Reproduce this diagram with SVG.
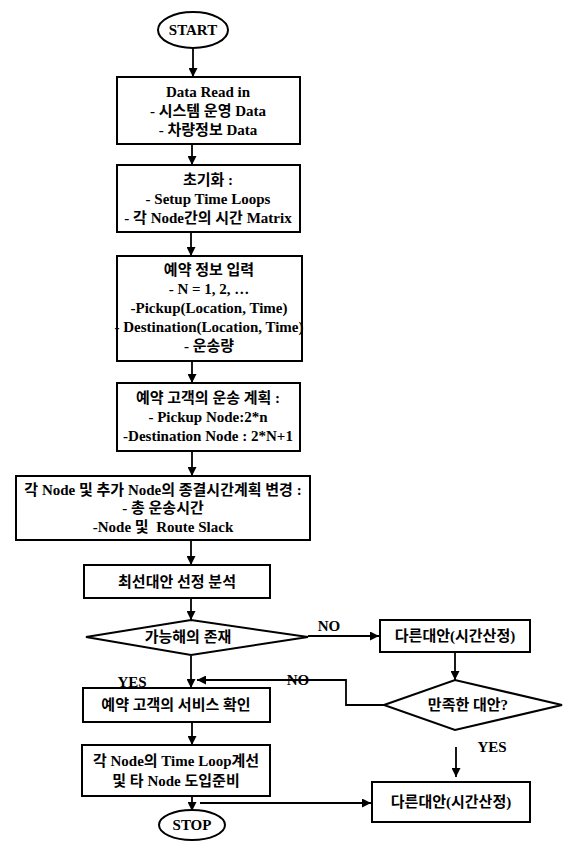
<svg xmlns="http://www.w3.org/2000/svg" width="576" height="852" viewBox="0 0 576 852">
<style>
.sh{fill:#fff;stroke:#000;stroke-width:2}
.t{font-family:"Liberation Serif","Noto Sans CJK KR",serif;font-weight:bold;font-size:15px;fill:#000;text-anchor:middle;white-space:pre}
.c{fill:none;stroke:#000;stroke-width:1.8}
</style>
<defs>
<marker id="ah" viewBox="0 0 10 10" refX="10" refY="5" markerWidth="5" markerHeight="5" orient="auto" markerUnits="strokeWidth">
<path d="M0,0L10,5L0,10z" fill="#000"/>
</marker>
</defs>
<rect width="576" height="852" fill="#fff"/>
<g id="connectors">
<line class="c" x1="193" y1="48" x2="193" y2="77" marker-end="url(#ah)"/>
<line class="c" x1="192" y1="144" x2="192" y2="165" marker-end="url(#ah)"/>
<line class="c" x1="191" y1="232" x2="191" y2="256" marker-end="url(#ah)"/>
<line class="c" x1="192" y1="361" x2="192" y2="383" marker-end="url(#ah)"/>
<line class="c" x1="192" y1="451" x2="192" y2="476" marker-end="url(#ah)"/>
<line class="c" x1="191" y1="540" x2="191" y2="565" marker-end="url(#ah)"/>
<line class="c" x1="191" y1="598" x2="191" y2="620" marker-end="url(#ah)"/>
<line class="c" x1="308" y1="636" x2="379" y2="636" marker-end="url(#ah)"/>
<text class="t" x="329" y="631">NO</text>
<line class="c" x1="455" y1="652" x2="455" y2="680" marker-end="url(#ah)"/>
<polyline class="c" points="384,705 346,705 346,680 197,680" marker-end="url(#ah)"/>
<text class="t" x="298" y="685">NO</text>
<text class="t" x="132" y="687">YES</text>
<line class="c" x1="191" y1="656" x2="191" y2="688" marker-end="url(#ah)"/>
<line class="c" x1="192" y1="722" x2="192" y2="745" marker-end="url(#ah)"/>
<line class="c" x1="192" y1="796" x2="192" y2="811" marker-end="url(#ah)"/>
<line class="c" x1="200" y1="803" x2="371" y2="803" marker-end="url(#ah)"/>
<line class="c" x1="456" y1="747" x2="456" y2="777" marker-end="url(#ah)"/>
<text class="t" x="492" y="752">YES</text>
</g>
<g id="start">
<ellipse class="sh" cx="193" cy="30" rx="35" ry="18"/>
<text class="t" x="193" y="35">START</text>
</g>
<g id="data-read">
<rect class="sh" x="117" y="77" width="183" height="67"/>
<text class="t" x="208" y="97">Data Read in</text>
<text class="t" x="208" y="116">- 시스템 운영 Data</text>
<text class="t" x="208" y="135">- 차량정보 Data</text>
</g>
<g id="init">
<rect class="sh" x="117" y="165" width="183" height="67"/>
<text class="t" x="208" y="185">초기화 :</text>
<text class="t" x="208" y="204">- Setup Time Loops</text>
<text class="t" x="208" y="223">- 각 Node간의 시간 Matrix</text>
</g>
<g id="reservation">
<rect class="sh" x="117" y="256" width="185" height="105"/>
<text class="t" x="209" y="275">예약 정보 입력</text>
<text class="t" x="209" y="294">- N = 1, 2, …</text>
<text class="t" x="209" y="313">-Pickup(Location, Time)</text>
<text class="t" x="209" y="332">- Destination(Location, Time)</text>
<text class="t" x="209" y="351">- 운송량</text>
</g>
<g id="transport-plan">
<rect class="sh" x="117" y="383" width="183" height="68"/>
<text class="t" x="208" y="403">예약 고객의 운송 계획 :</text>
<text class="t" x="208" y="422">- Pickup Node:2*n</text>
<text class="t" x="208" y="441">-Destination Node : 2*N+1</text>
</g>
<g id="schedule-change">
<rect class="sh" x="16" y="476" width="294" height="64"/>
<text class="t" x="163" y="495">각 Node 및 추가 Node의 종결시간계획 변경 :</text>
<text class="t" x="163" y="513">- 총 운송시간</text>
<text class="t" x="163" y="532">-Node 및  Route Slack</text>
</g>
<g id="best-alt">
<rect class="sh" x="84" y="565" width="186" height="33"/>
<text class="t" x="177" y="587">최선대안 선정 분석</text>
</g>
<g id="feasible">
<polygon class="sh" points="86,637 191,620 308,637 191,655"/>
<text class="t" x="188" y="642">가능해의 존재</text>
</g>
<g id="other-alt-1">
<rect class="sh" x="380" y="620" width="150" height="32"/>
<text class="t" x="455" y="641">다른대안(시간산정)</text>
</g>
<g id="satisfied">
<polygon class="sh" points="384,705 455,680 562,705 455,730"/>
<text class="t" x="468" y="710">만족한 대안?</text>
</g>
<g id="service-check">
<rect class="sh" x="83" y="688" width="187" height="34"/>
<text class="t" x="176" y="710">예약 고객의 서비스 확인</text>
</g>
<g id="time-loop">
<rect class="sh" x="82" y="745" width="188" height="51"/>
<text class="t" x="176" y="766">각 Node의 Time Loop계선</text>
<text class="t" x="176" y="786">및 타 Node 도입준비</text>
</g>
<g id="stop">
<ellipse class="sh" cx="192" cy="825" rx="33" ry="15"/>
<text class="t" x="192" y="830">STOP</text>
</g>
<g id="other-alt-2">
<rect class="sh" x="372" y="782" width="158" height="40"/>
<text class="t" x="451" y="807">다른대안(시간산정)</text>
</g>
</svg>
